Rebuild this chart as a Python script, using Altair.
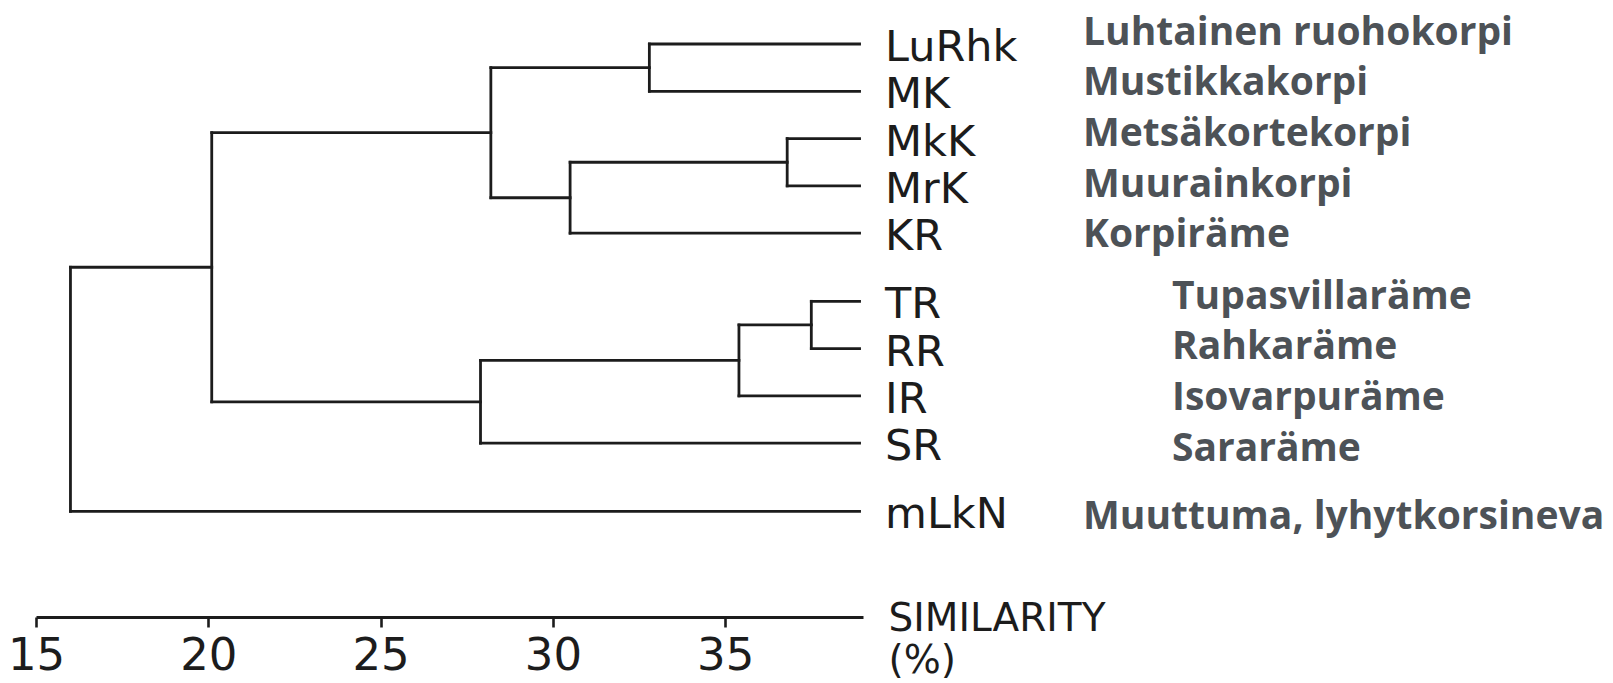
import altair as alt
import pandas as pd

# ---- data ----
leaves = ["LuRhk", "MK", "MkK", "MrK", "KR", "TR", "RR", "IR", "SR", "mLkN"]
names = ["Luhtainen ruohokorpi", "Mustikkakorpi", "Metsäkortekorpi", "Muurainkorpi",
         "Korpiräme", "Tupasvillaräme", "Rahkaräme", "Isovarpuräme", "Sararäme",
         "Muuttuma, lyhytkorsineva"]
# agglomeration steps: node ids 0-9 are leaves, new nodes numbered from 10
merge_a = [0, 2, 11, 10, 5, 14, 15, 13, 17]
merge_b = [1, 3, 4, 12, 6, 7, 8, 16, 9]
merge_sim = [32.8, 36.8, 30.5, 28.2, 37.5, 35.4, 27.9, 20.1, 16.0]
tick_values = [15, 20, 25, 30, 35]

# ---- layout ----
LEAF_END = 38.9
GAP_BEFORE = {5: 0.44, 9: 0.44}
INK = "#1c1c1c"
NAME_COL = "#4d5257"

pos = []
p = 0.0
for i in range(len(leaves)):
    p += GAP_BEFORE.get(i, 0.0) + (1.0 if i > 0 else 0.0)
    pos.append(p)

node_x = {i: LEAF_END for i in range(len(leaves))}
node_y = {i: pos[i] for i in range(len(leaves))}
segs = []
for k, (a, b, h) in enumerate(zip(merge_a, merge_b, merge_sim)):
    nid = len(leaves) + k
    ya, yb = node_y[a], node_y[b]
    segs.append(dict(x=h, x2=h, y=ya, y2=yb))
    segs.append(dict(x=h, x2=node_x[a], y=ya, y2=ya))
    segs.append(dict(x=h, x2=node_x[b], y=yb, y2=yb))
    node_x[nid] = h
    node_y[nid] = (ya + yb) / 2
seg_df = pd.DataFrame(segs)

# name rows are spread slightly wider than the leaves
name_pos = []
for i, yv in enumerate(pos):
    if i <= 4:
        name_pos.append(pos[4] - (pos[4] - yv) * 1.07)
    elif i <= 8:
        name_pos.append(pos[7] + (yv - pos[7]) * 1.07)
    else:
        name_pos.append(yv + 0.08)
indent = [0] * 5 + [89] * 4 + [0]
lab_df = pd.DataFrame(dict(code=leaves, name=names, y=pos, ny=name_pos,
                           nx=[1047 + d for d in indent]))

W, H = 827, 609
UNIT = 47.3
ydom = [-36 / UNIT, (H - 36) / UNIT]
xscale = alt.Scale(domain=[15, 39], nice=False, zero=False)
yscale = alt.Scale(domain=ydom, reverse=True, nice=False, zero=False)

tree = alt.Chart(seg_df).mark_rule(color=INK, strokeWidth=2.8, strokeCap="square").encode(
    x=alt.X("x:Q", scale=xscale, axis=alt.Axis(
        values=tick_values, grid=False, domainColor=INK, domainWidth=2.8,
        tickColor=INK, tickWidth=2.6, tickSize=10, labelFont="DejaVu Sans",
        labelFontSize=45, labelColor=INK, labelPadding=6, labelFlush=False,
        title=["SIMILARITY", "(%)"], titleFont="DejaVu Sans", titleFontSize=39,
        titleFontWeight="normal", titleColor=INK, titleAlign="left",
        titleBaseline="top", titleX=852, titleY=-18, titleLineHeight=42)),
    x2="x2:Q",
    y=alt.Y("y:Q", scale=yscale, axis=None),
    y2="y2:Q",
)

codes = alt.Chart(lab_df).mark_text(
    align="left", baseline="middle", font="DejaVu Sans", fontSize=43,
    color=INK, dy=4).encode(
    x=alt.value(849), y=alt.Y("y:Q", scale=yscale), text="code:N")

full = alt.Chart(lab_df).mark_text(
    align="left", baseline="middle", font="Open Sans", fontSize=39,
    fontWeight="bold", color=NAME_COL, dy=2).encode(
    x=alt.X("nx:Q", scale=None), y=alt.Y("ny:Q", scale=yscale), text="name:N")

chart = alt.layer(tree, codes, full).properties(
    width=W, height=H,
    autosize=alt.AutoSizeParams(type="none"),
    padding={"left": 28, "top": 0, "right": 742, "bottom": 66},
).configure(background="white").configure_view(stroke=None, strokeWidth=0)

chart.save("out.html", embed_options={"renderer": "svg", "actions": False})
